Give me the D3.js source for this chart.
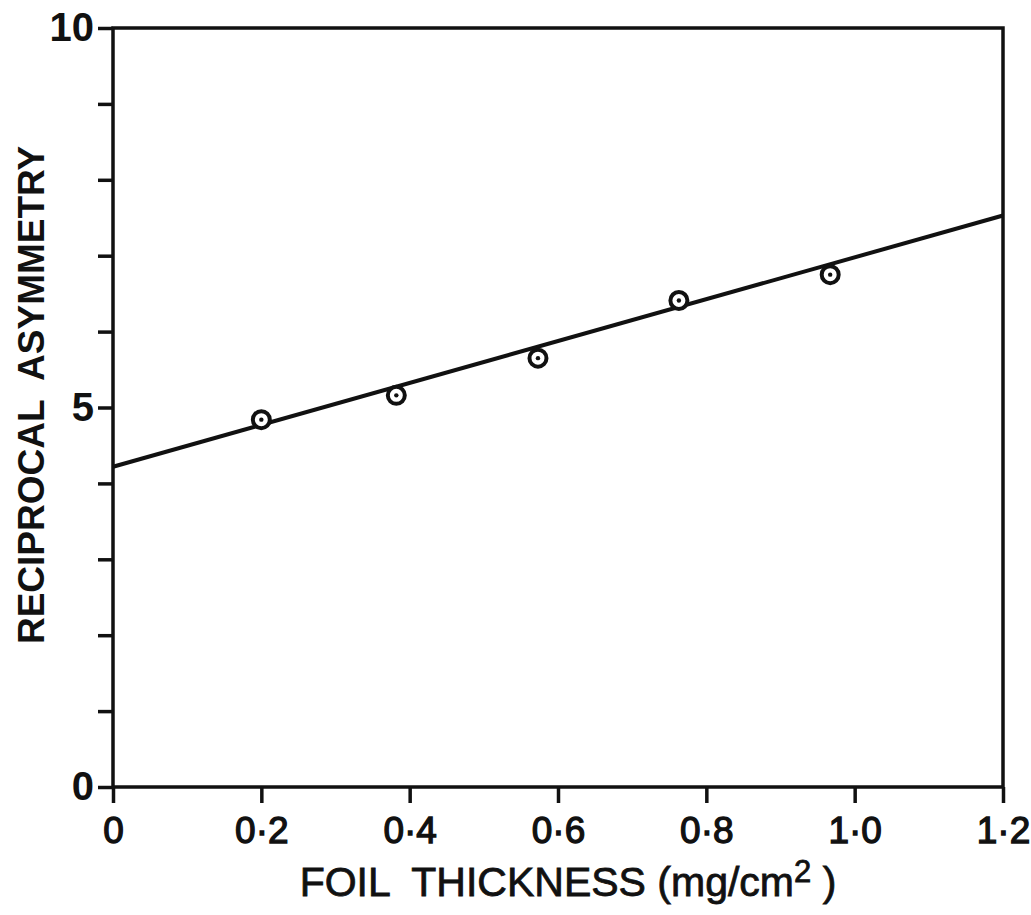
<!DOCTYPE html>
<html>
<head>
<meta charset="utf-8">
<script src="https://cdn.jsdelivr.net/npm/d3@7"></script>
<style>
  body { margin: 0; background: #fff; }
  text { font-family: "Liberation Sans", Arial, sans-serif; fill: #111; }
</style>
</head>
<body>
<div id="chart"></div>
<script>
// data
var thickness = [0.2, 0.382, 0.573, 0.763, 0.967]
var recipAsym = [4.84, 5.16, 5.65, 6.41, 6.75]
var fitX = [0, 1.2]
var fitY = [4.22, 7.53]
var xTicks = [0, 0.2, 0.4, 0.6, 0.8, 1.0, 1.2]
var xTickLabels = ["0", "0·2", "0·4", "0·6", "0·8", "1·0", "1·2"]
var yTicks = [0, 1, 2, 3, 4, 5, 6, 7, 8, 9, 10]
var yTickLabels = {0: "0", 5: "5", 10: "10"}

var width = 1031
var height = 915
var plotLeft = 113, plotRight = 1003, plotTop = 28, plotBottom = 787

var svg = d3.select('#chart')
            .append('svg')
            .attr('width', width)
            .attr('height', height)

var xScale = d3.scaleLinear().domain([0, 1.2]).range([plotLeft, plotRight])
var yScale = d3.scaleLinear().domain([0, 10]).range([plotBottom, plotTop])

// frame
svg.append('rect')
    .attr('x', plotLeft).attr('y', plotTop)
    .attr('width', plotRight - plotLeft).attr('height', plotBottom - plotTop)
    .attr('fill', 'none')
    .attr('stroke', '#111')
    .attr('stroke-width', 3.5)

// x axis
var xAxis = d3.axisBottom(xScale)
                .tickValues(xTicks)
                .tickSize(16)
                .tickPadding(14)
                .tickFormat((d, i) => xTickLabels[i])
var gx = svg.append('g')
            .attr('transform', "translate(0," + plotBottom + ")")
            .call(xAxis)
gx.select('.domain').remove()
gx.selectAll('line').attr('stroke', '#111').attr('stroke-width', 3.5)
gx.selectAll('text')
    .attr('fill', '#111')
    .attr('stroke', '#111')
    .attr('stroke-width', 1.3)
    .style('font-size', '37px')

// y axis
var yAxis = d3.axisLeft(yScale)
                .tickValues(yTicks)
                .tickSize(15)
                .tickPadding(4)
                .tickFormat(d => yTickLabels[d] || "")
var gy = svg.append('g')
            .attr('transform', "translate(" + plotLeft + ",0)")
            .call(yAxis)
gy.select('.domain').remove()
gy.selectAll('line').attr('stroke', '#111').attr('stroke-width', 3.5)
gy.selectAll('text')
    .attr('fill', '#111')
    .style('font-size', '40px')
    .style('font-weight', 'bold')

// fitted line
var line = d3.line()
            .x(d => xScale(d[0]))
            .y(d => yScale(d[1]))
svg.append('path')
    .datum(d3.zip(fitX, fitY))
    .attr('d', line)
    .attr('fill', 'none')
    .attr('stroke', '#111')
    .attr('stroke-width', 4)

// points
var pts = svg.append('g')
            .selectAll('g')
            .data(d3.zip(thickness, recipAsym))
            .enter()
            .append('g')
            .attr('transform', d => "translate(" + xScale(d[0]) + "," + yScale(d[1]) + ")")
pts.append('circle')
    .attr('r', 8.5)
    .attr('fill', '#fff')
    .attr('stroke', '#111')
    .attr('stroke-width', 4)
pts.append('circle')
    .attr('r', 2.2)
    .attr('fill', '#111')

// axis titles
svg.append('text')
    .attr('x', 568)
    .attr('y', 896)
    .attr('text-anchor', 'middle')
    .attr('stroke', '#111')
    .attr('stroke-width', 0.8)
    .style('font-size', '41px')
    .attr('xml:space', 'preserve')
    .html('FOIL  THICKNESS (mg/cm<tspan dy="-14" style="font-size:31px">2</tspan><tspan dy="14"> )</tspan>')

svg.append('text')
    .attr('transform', "translate(44," + 395 + ")rotate(-90)")
    .attr('text-anchor', 'middle')
    .style('font-size', '37px')
    .style('font-weight', 'bold')
    .attr('xml:space', 'preserve')
    .text('RECIPROCAL  ASYMMETRY')
</script>
</body>
</html>
